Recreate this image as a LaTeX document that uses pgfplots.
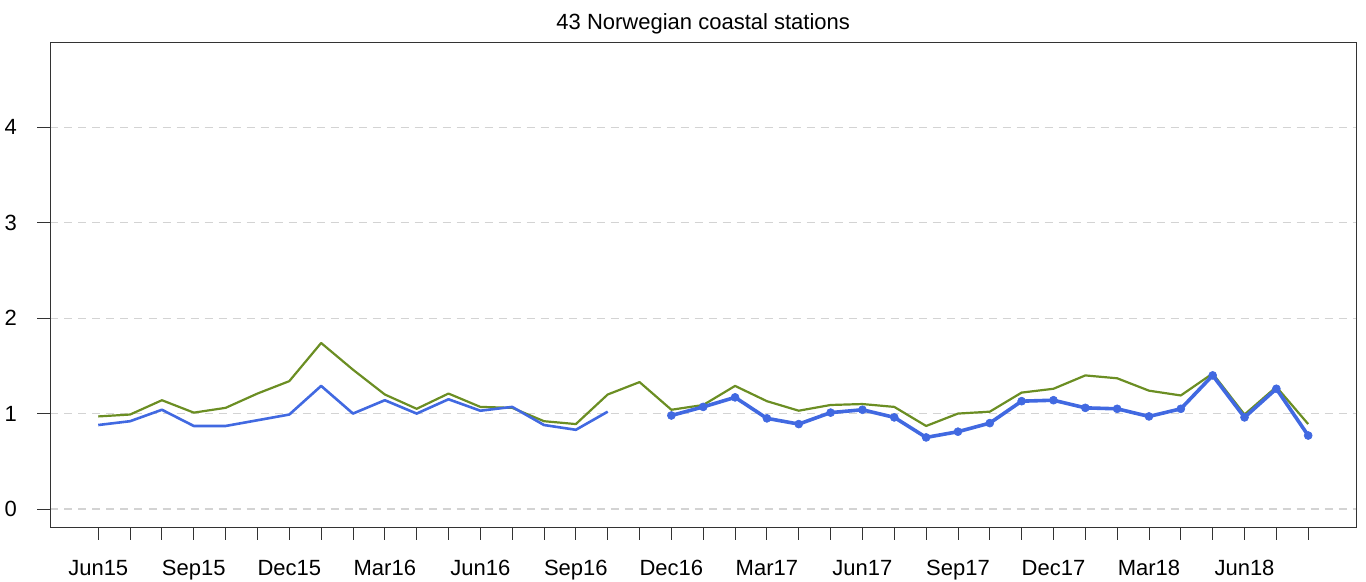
\documentclass[border=0pt]{standalone}
\usepackage{pgfplots}
\pgfplotsset{compat=1.18}
\usepackage{fontspec}
\setmainfont{Liberation Sans}
\definecolor{blueline}{RGB}{65,105,225}
\definecolor{greenline}{RGB}{107,142,35}
\definecolor{gridgray}{RGB}{211,211,211}
\begin{document}
\fontsize{22bp}{26bp}\selectfont
\begin{tikzpicture}
\begin{axis}[
  at={(50.5bp,55bp)}, anchor=south west,
  scale only axis, width=1305.5bp, height=484.5bp,
  xmin=-1.5, xmax=39.5, ymin=-0.189, ymax=4.89,
  axis line style={black!80, line width=0.9bp},
  xtick={0,3,...,36},
  xticklabels={Jun15,Sep15,Dec15,Mar16,Jun16,Sep16,Dec16,Mar17,Jun17,Sep17,Dec17,Mar18,Jun18},
  minor xtick={0,...,38},
  ytick={0,1,2,3,4},
  tick align=outside, tick pos=left,
  major tick length=13bp, minor tick length=13bp,
  every tick/.style={black!80, line width=0.9bp},
  ymajorgrids, grid style={gridgray, dash pattern=on 8bp off 6bp, line width=1.1bp},
  /pgf/number format/assume math mode=true,
  tick label style={font=\fontsize{22bp}{26bp}\selectfont},
  xticklabel style={anchor=base, yshift=-35.5bp},
  yticklabel style={anchor=east, xshift=-13bp},
  every axis title/.style={at={(0.5,1)}, anchor=base, yshift=13.2bp, font=\fontsize{22bp}{26bp}\selectfont},
  title={43 Norwegian coastal stations},
  clip=false,
]
\addplot[greenline, line width=2.2bp, line join=round] coordinates {
(0,0.97)(1,0.99)(2,1.14)(3,1.01)(4,1.06)(5,1.21)(6,1.34)(7,1.74)(8,1.46)(9,1.20)
(10,1.05)(11,1.21)(12,1.07)(13,1.06)(14,0.92)(15,0.89)(16,1.20)(17,1.33)(18,1.04)(19,1.09)
(20,1.29)(21,1.13)(22,1.03)(23,1.09)(24,1.10)(25,1.07)(26,0.87)(27,1.00)(28,1.02)(29,1.22)
(30,1.26)(31,1.40)(32,1.37)(33,1.24)(34,1.19)(35,1.42)(36,0.99)(37,1.28)(38,0.89)};
\addplot[blueline, line width=2.6bp, line join=round] coordinates {
(0,0.88)(1,0.92)(2,1.04)(3,0.87)(4,0.87)(5,0.93)(6,0.99)(7,1.29)(8,1.00)(9,1.14)
(10,1.00)(11,1.15)(12,1.03)(13,1.07)(14,0.88)(15,0.83)(16,1.02)};
\addplot[blueline, line width=3.6bp, line join=round, mark=*, mark size=4bp, mark options={solid, fill=blueline, draw=blueline, line width=0.6bp}] coordinates {
(18,0.98)(19,1.07)(20,1.17)(21,0.95)(22,0.89)(23,1.01)(24,1.04)(25,0.96)(26,0.75)(27,0.81)
(28,0.90)(29,1.13)(30,1.14)(31,1.06)(32,1.05)(33,0.97)(34,1.05)(35,1.40)(36,0.96)(37,1.26)(38,0.77)};
\end{axis}
\pgfresetboundingbox
\useasboundingbox (0,0) rectangle (1366bp,582bp);
\end{tikzpicture}
\end{document}
